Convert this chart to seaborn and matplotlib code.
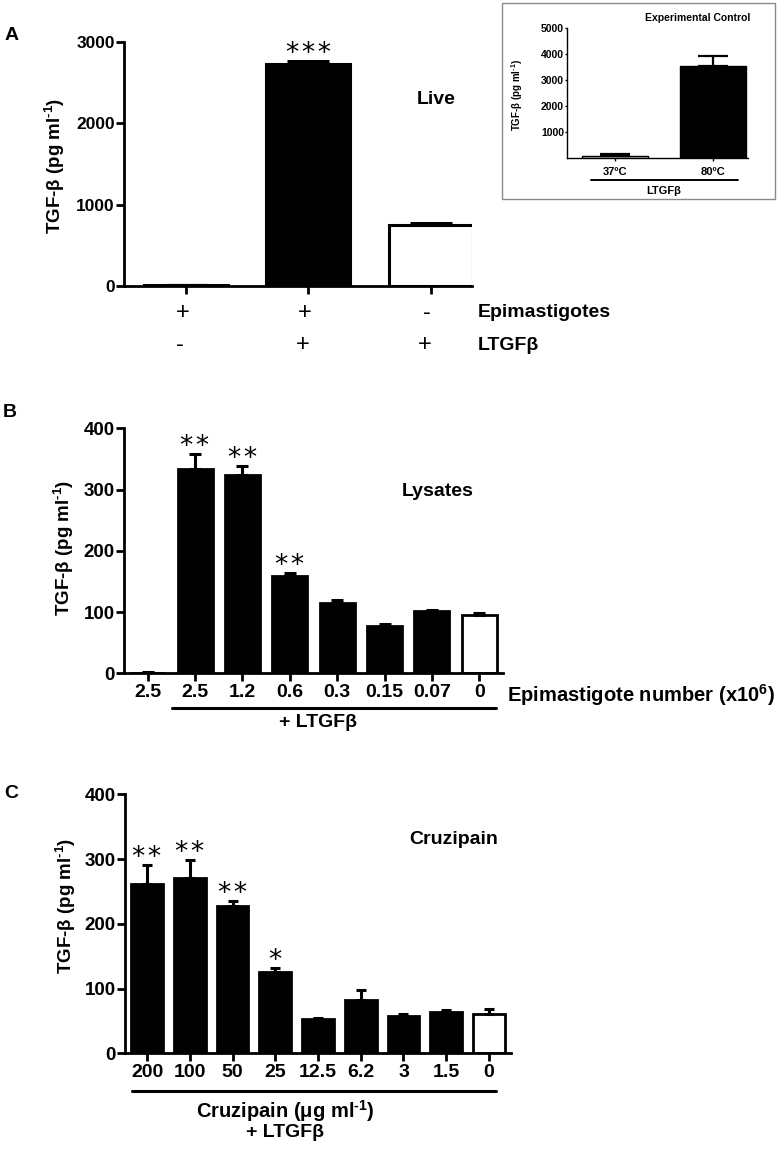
import numpy as np
import pandas as pd
import matplotlib
matplotlib.use('Agg')
import matplotlib.pyplot as plt
import seaborn as sns
from matplotlib.patches import Rectangle

sns.set_theme(style='ticks', rc={'axes.edgecolor': 'black', 'xtick.color': 'black',
                                 'ytick.color': 'black', 'text.color': 'black',
                                 'axes.labelcolor': 'black'})
plt.rcParams['font.family'] = ['Liberation Sans', 'DejaVu Sans']
plt.rcParams['font.weight'] = 'bold'
plt.rcParams['mathtext.fontset'] = 'custom'
plt.rcParams['mathtext.rm'] = 'Liberation Sans:bold'
plt.rcParams['mathtext.bf'] = 'Liberation Sans:bold'
plt.rcParams['mathtext.it'] = 'Liberation Sans:bold'

# ---------------- data ----------------
a_values = [10, 2725, 750]
a_errors = [4, 45, 30]
a_fill = ['white', 'black', 'white']
a_epi = ['+', '+', '-']
a_ltgf = ['-', '+', '+']
a_stars = ['', '***', '']

inset_labels = ['37ºC', '80ºC']
inset_values = [95, 3550]
inset_errors = [45, 390]
inset_fill = ['white', 'black']
inset_yticks = [1000, 2000, 3000, 4000, 5000]

b_labels = ['2.5', '2.5', '1.2', '0.6', '0.3', '0.15', '0.07', '0']
b_values = [1, 334, 323, 159, 114, 77, 101, 95]
b_errors = [1, 24, 16, 5, 6, 3, 2, 4]
b_fill = ['black'] * 7 + ['white']
b_stars = ['', '**', '**', '**', '', '', '', '']

c_labels = ['200', '100', '50', '25', '12.5', '6.2', '3', '1.5', '0']
c_values = [261, 270, 228, 125, 53, 83, 57, 64, 60]
c_errors = [30, 29, 7, 7, 1, 15, 3, 3, 9]
c_fill = ['black'] * 8 + ['white']
c_stars = ['**', '**', '**', '*', '', '', '', '', '']

YLAB = r'TGF-β (pg ml$^{\text{-1}}$)'

W, H = 780, 1149
fig = plt.figure(figsize=(W / 100, H / 100), dpi=100)


def fx(px):
    return px / W


def fy(py):
    return 1 - py / H


def make_axes(left, right, top, bottom):
    return fig.add_axes([fx(left), fy(bottom), (right - left) / W, (bottom - top) / H])


def draw_bars(ax, values, errors, fills, width, lw, capsize, elw):
    ids = [f'g{i}' for i in range(len(values))]
    df = pd.DataFrame({'id': ids, 'value': values})
    pal = dict(zip(ids, fills))
    sns.barplot(data=df, x='id', y='value', hue='id', palette=pal, legend=False,
                width=width, edgecolor='black', linewidth=lw, errorbar=None,
                saturation=1, ax=ax)
    n = len(values)
    ax.errorbar(np.arange(n), values, yerr=[np.zeros(n), errors], fmt='none',
                ecolor='black', elinewidth=elw, capsize=capsize, capthick=elw, zorder=5)
    ax.set_xlabel('')
    ax.set_ylabel('')
    sns.despine(ax=ax)


def draw_stars(ax, values, errors, stars, size=19):
    for i, s in enumerate(stars):
        if s:
            ax.text(i, values[i] + errors[i], '\u200a'.join(s), ha='center', va='baseline',
                    fontsize=size, family='DejaVu Sans', fontweight='normal')


# ---------------- Panel A ----------------
axA = make_axes(124, 472, 42, 286)
draw_bars(axA, a_values, a_errors, a_fill, 0.686, 2.2, 15, 2.2)
axA.set_ylim(0, 3000)
axA.set_xlim(-0.506, 2.335)
axA.set_yticks([0, 1000, 2000, 3000])
axA.set_xticks([0, 1, 2])
axA.set_xticklabels(['', '', ''])
for sp in axA.spines.values():
    sp.set_linewidth(2.0)
axA.tick_params(axis='both', direction='out', width=2, length=5.5, labelsize=12.5, pad=1)
draw_stars(axA, a_values, a_errors, a_stars)
tr = axA.get_xaxis_transform()
for i in range(3):
    axA.text(i - 0.03, -0.109, a_epi[i], transform=tr, ha='center', va='center',
             fontsize=17, fontweight='normal')
    axA.text(i - 0.05, -0.242, a_ltgf[i], transform=tr, ha='center', va='center',
             fontsize=17, fontweight='normal')
fig.text(fx(478), fy(312.7), 'Epimastigotes', ha='left', va='center', fontsize=14)
fig.text(fx(478), fy(345), 'LTGFβ', ha='left', va='center', fontsize=14)
fig.text(fx(417), fy(99.3), 'Live', ha='left', va='center', fontsize=14)
fig.text(fx(5), fy(36), 'A', ha='left', va='center', fontsize=14)
fig.text(fx(55), fy(166), YLAB, rotation=90, ha='center', va='center', fontsize=13.5)

# ---------------- Inset ----------------
fig.add_artist(Rectangle((fx(502.3), fy(199)), 272.7 / W, 195.7 / H,
                         transform=fig.transFigure, fill=False, edgecolor='#8a8a8a', lw=1))
axI = make_axes(566.7, 748, 28.3, 158)
draw_bars(axI, inset_values, inset_errors, inset_fill, 0.68, 1.0, 11, 1.6)
axI.set_ylim(0, 5000)
axI.set_xlim(-0.493, 1.357)
axI.set_yticks(inset_yticks)
axI.set_xticks([0, 1])
axI.set_xticklabels(inset_labels)
for sp in axI.spines.values():
    sp.set_linewidth(1.0)
axI.tick_params(axis='y', direction='out', width=1, length=1.5, labelsize=7.5, pad=0.5)
axI.tick_params(axis='x', direction='out', width=1, length=2, labelsize=8, pad=4.5)
trI = axI.get_xaxis_transform()
axI.plot([-0.24, 1.255], [-0.172, -0.172], transform=trI, color='black', lw=1.4, clip_on=False)
axI.text(0.5, -0.252, 'LTGFβ', transform=trI, ha='center', va='center', fontsize=8)
fig.text(fx(698), fy(17.7), 'Experimental Control', ha='center', va='center', fontsize=7.5)
fig.text(fx(517), fy(95), YLAB, rotation=90, ha='center', va='center', fontsize=7)

# ---------------- Panel B ----------------
axB = make_axes(124, 503, 428.3, 673.3)
draw_bars(axB, b_values, b_errors, b_fill, 0.74, 2.0, 4.3, 2.2)
axB.set_ylim(0, 400)
axB.set_xlim(-0.5, 7.5)
axB.set_yticks([0, 100, 200, 300, 400])
axB.set_xticks(range(len(b_labels)))
axB.set_xticklabels(b_labels)
for sp in axB.spines.values():
    sp.set_linewidth(2.0)
axB.tick_params(axis='y', direction='out', width=2, length=5.5, labelsize=13.5, pad=1)
axB.tick_params(axis='x', direction='out', width=2, length=5.5, labelsize=14, pad=2.5)
draw_stars(axB, b_values, b_errors, b_stars)
trB = axB.get_xaxis_transform()
axB.plot([0.51, 7.35], [-0.143, -0.143], transform=trB, color='black', lw=2.2, clip_on=False)
axB.text(3.6, -0.2016, '+ LTGFβ', transform=trB, ha='center', va='center', fontsize=14)
fig.text(fx(507), fy(695), r'Epimastigote number (x10$^{6}$)', ha='left', va='center', fontsize=14.5)
fig.text(fx(401.7), fy(491), 'Lysates', ha='left', va='center', fontsize=14)
fig.text(fx(3), fy(412.7), 'B', ha='left', va='center', fontsize=14)
fig.text(fx(64), fy(548), YLAB, rotation=90, ha='center', va='center', fontsize=13.5)

# ---------------- Panel C ----------------
axC = make_axes(125, 511, 794.3, 1053.3)
draw_bars(axC, c_values, c_errors, c_fill, 0.74, 2.0, 3.9, 2.2)
axC.set_ylim(0, 400)
axC.set_xlim(-0.515, 8.515)
axC.set_yticks([0, 100, 200, 300, 400])
axC.set_xticks(range(len(c_labels)))
axC.set_xticklabels(c_labels)
for sp in axC.spines.values():
    sp.set_linewidth(2.0)
axC.tick_params(axis='y', direction='out', width=2, length=5.5, labelsize=13.5, pad=1)
axC.tick_params(axis='x', direction='out', width=2, length=5.5, labelsize=14, pad=2.5)
draw_stars(axC, c_values, c_errors, c_stars)
trC = axC.get_xaxis_transform()
axC.plot([-0.36, 8.16], [-0.1444, -0.1444], transform=trC, color='black', lw=2.2, clip_on=False)
axC.text(3.23, -0.2228, r'Cruzipain (μg ml$^{\text{-1}}$)', transform=trC, ha='center', va='center', fontsize=14.5)
axC.text(3.23, -0.3077, '+ LTGFβ', transform=trC, ha='center', va='center', fontsize=14)
fig.text(fx(409), fy(840), 'Cruzipain', ha='left', va='center', fontsize=14)
fig.text(fx(4), fy(793), 'C', ha='left', va='center', fontsize=14)
fig.text(fx(66), fy(906), YLAB, rotation=90, ha='center', va='center', fontsize=13.5)

fig.savefig('out.png', dpi=100)
